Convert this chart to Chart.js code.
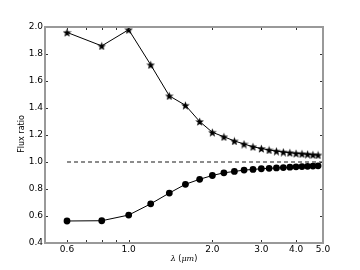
<!doctype html>
<html lang="en">
<head>
  <meta charset="utf-8">
  <title>Flux ratio</title>
  <style>
    * { margin: 0; padding: 0; }
    body { background: #fff; }
    .chartBox { width: 360px; height: 270px; }
  </style>
</head>
<body>
  <div class="chartBox">
    <canvas id="myChart"></canvas>
  </div>
  <script src="https://cdn.jsdelivr.net/npm/chart.js/dist/chart.umd.min.js"></script>
  <script>
    // data
    const lambda = [0.6, 0.8, 1.0, 1.2, 1.4, 1.6, 1.8, 2.0, 2.2, 2.4, 2.6, 2.8, 3.0, 3.2, 3.4, 3.6, 3.8, 4.0, 4.2, 4.4, 4.6, 4.8];
    const starRatio = [1.96, 1.86, 1.98, 1.72, 1.49, 1.42, 1.30, 1.22, 1.187, 1.156, 1.133, 1.113, 1.10, 1.089, 1.081, 1.074, 1.069, 1.064, 1.061, 1.058, 1.054, 1.052];
    const circleRatio = [0.563, 0.565, 0.607, 0.69, 0.77, 0.835, 0.872, 0.90, 0.92, 0.93, 0.94, 0.945, 0.95, 0.953, 0.956, 0.959, 0.962, 0.964, 0.966, 0.968, 0.97, 0.972];
    const refLine = [{ x: 0.6, y: 1.0 }, { x: 5.0, y: 1.0 }];
    const xTicks = [0.6, 0.7, 0.8, 0.9, 1.0, 2.0, 3.0, 4.0, 5.0];
    const xTickLabels = [0.6, 1.0, 2.0, 3.0, 4.0, 5.0];

    // filled five-point star marker
    function makeStar(size) {
      const c = document.createElement('canvas');
      c.width = size;
      c.height = size;
      const g = c.getContext('2d');
      const r1 = size / 2, r2 = r1 * 0.42;
      g.beginPath();
      for (let i = 0; i < 10; i++) {
        const r = i % 2 ? r2 : r1;
        const a = -Math.PI / 2 + i * Math.PI / 5;
        g.lineTo(r1 + r * Math.cos(a), r1 + r * Math.sin(a) + 0.5);
      }
      g.closePath();
      g.fillStyle = '#000';
      g.fill();
      return c;
    }
    const star = makeStar(9);

    const toXY = (ys) => lambda.map((x, i) => ({ x, y: ys[i] }));

    const frame = {
      id: 'frame',
      afterDraw(chart) {
        const ctx = chart.ctx;
        const area = chart.chartArea;
        const xs = chart.scales.x, ys = chart.scales.y;
        const left = area.left, right = area.right, top = area.top, bottom = area.bottom;
        ctx.save();
        ctx.setLineDash([]);
        ctx.strokeStyle = '#333';
        ctx.lineWidth = 1;
        ctx.beginPath();
        xs.ticks.forEach(t => {
          const px = Math.round(xs.getPixelForValue(t.value)) + 0.5;
          ctx.moveTo(px, bottom); ctx.lineTo(px, bottom - 3);
          ctx.moveTo(px, top); ctx.lineTo(px, top + 3);
        });
        ys.ticks.forEach(t => {
          const py = Math.round(ys.getPixelForValue(t.value)) + 0.5;
          ctx.moveTo(left, py); ctx.lineTo(left + 3, py);
          ctx.moveTo(right, py); ctx.lineTo(right - 3, py);
        });
        ctx.stroke();
        ctx.strokeStyle = '#999';
        ctx.lineWidth = 2;
        ctx.beginPath();
        ctx.rect(left, top, right - left, bottom - top);
        ctx.stroke();

        // axis titles
        ctx.fillStyle = '#000';
        ctx.textBaseline = 'middle';
        ctx.font = '8px "DejaVu Sans"';
        ctx.save();
        ctx.translate(22, 134);
        ctx.rotate(-Math.PI / 2);
        ctx.textAlign = 'center';
        ctx.fillText('Flux ratio', 0, 0);
        ctx.restore();

        const parts = [['italic 8px "DejaVu Serif"', 'λ'], ['8px "DejaVu Sans"', ' ('], ['italic 8px "DejaVu Serif"', 'μm'], ['8px "DejaVu Sans"', ')']];
        let total = 0;
        parts.forEach(p => { ctx.font = p[0]; total += ctx.measureText(p[1]).width; });
        let cx = 184 - total / 2;
        ctx.textAlign = 'left';
        parts.forEach(p => {
          ctx.font = p[0];
          ctx.fillText(p[1], cx, 259);
          cx += ctx.measureText(p[1]).width;
        });
        ctx.restore();
      }
    };

    const config = {
      type: 'line',
      data: {
        datasets: [
          {
            label: 'ref',
            data: refLine,
            borderColor: '#666',
            borderWidth: 1.5,
            borderDash: [4, 3],
            pointRadius: 0
          },
          {
            label: 'stars',
            data: toXY(starRatio),
            borderColor: '#000',
            borderWidth: 1,
            pointStyle: star,
            pointRadius: 4
          },
          {
            label: 'circles',
            data: toXY(circleRatio),
            borderColor: '#000',
            backgroundColor: '#000',
            borderWidth: 1,
            pointStyle: 'circle',
            pointRadius: 3.4,
            pointBorderWidth: 0
          }
        ]
      },
      options: {
        responsive: true,
        maintainAspectRatio: false,
        animation: false,
        layout: { padding: { top: 27, right: 37, left: 0, bottom: 0 } },
        plugins: {
          legend: { display: false },
          tooltip: { enabled: false }
        },
        scales: {
          x: {
            type: 'logarithmic',
            min: 0.5,
            max: 5.0,
            afterBuildTicks: (scale) => { scale.ticks = xTicks.map(v => ({ value: v })); },
            afterFit: (scale) => { scale.height = 27; },
            grid: { display: false, drawTicks: false },
            border: { display: false },
            ticks: {
              autoSkip: false,
              maxRotation: 0,
              padding: 1,
              color: '#000',
              font: { family: 'DejaVu Sans', size: 9 },
              callback: (v) => xTickLabels.includes(v) ? v.toFixed(1) : ''
            }
          },
          y: {
            min: 0.4,
            max: 2.0,
            afterFit: (scale) => { scale.width = 45; },
            grid: { display: false, drawTicks: false },
            border: { display: false },
            ticks: {
              stepSize: 0.2,
              padding: 2,
              color: '#000',
              font: { family: 'DejaVu Sans', size: 9 },
              callback: (v) => v.toFixed(1)
            }
          }
        }
      },
      plugins: [frame]
    };

    const myChart = new Chart(document.getElementById('myChart'), config);
  </script>
</body>
</html>
